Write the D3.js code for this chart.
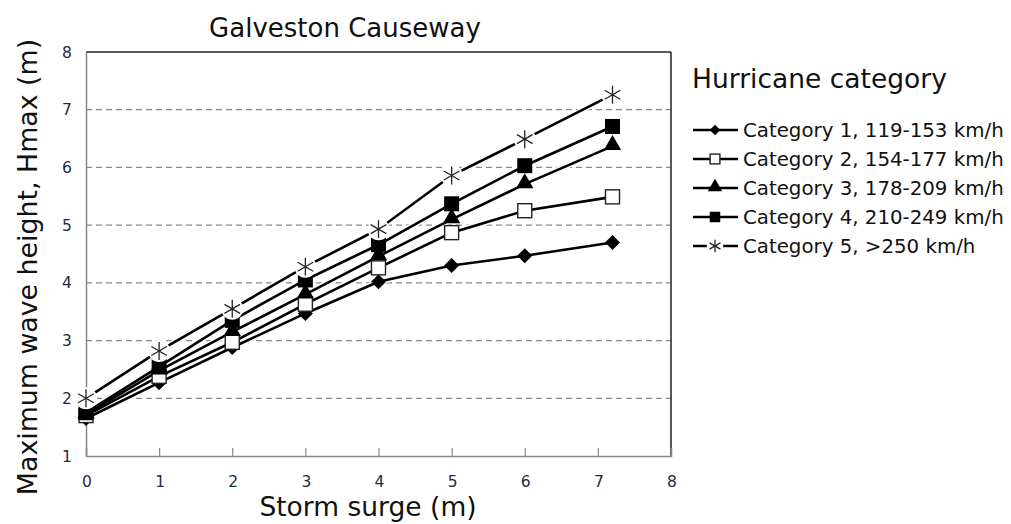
<!DOCTYPE html>
<html>
<head>
<meta charset="utf-8">
<script src="https://cdn.jsdelivr.net/npm/d3@7"></script>
<style>
  body { margin: 0; background: #fff; }
  text { font-family: "DejaVu Sans", Verdana, sans-serif; }
</style>
</head>
<body>
<div id="chart"></div>
<script>
let surge = [0, 1, 2, 3, 4, 5, 6, 7.2]
let cat1 = [1.65, 2.27, 2.88, 3.47, 4.02, 4.30, 4.47, 4.70]
let cat2 = [1.70, 2.38, 2.97, 3.63, 4.26, 4.87, 5.25, 5.49]
let cat3 = [1.72, 2.48, 3.15, 3.80, 4.46, 5.10, 5.71, 6.37]
let cat4 = [1.75, 2.55, 3.35, 4.05, 4.66, 5.37, 6.03, 6.71]
let cat5 = [2.00, 2.82, 3.55, 4.28, 4.93, 5.86, 6.49, 7.26]
let seriesNames = ["Category 1, 119-153 km/h", "Category 2, 154-177 km/h", "Category 3, 178-209 km/h",
  "Category 4, 210-249 km/h", "Category 5, >250 km/h"]
let xTicks = [0, 1, 2, 3, 4, 5, 6, 7, 8]
let yTicks = [1, 2, 3, 4, 5, 6, 7, 8]

let width = 1011
let height = 524
let plot = {left: 86, top: 52, right: 671, bottom: 456}

let series = [cat1, cat2, cat3, cat4, cat5].map((vals, i) => ({
  name: seriesNames[i],
  symbol: ["diamond", "open", "triangle", "square", "star"][i],
  points: vals.map((v, j) => ({x: surge[j], y: v}))
}))

let svg = d3.select("#chart").append("svg")
  .attr("width", width)
  .attr("height", height)

let x = d3.scaleLinear().domain([0, 8]).range([plot.left, plot.right])
let y = d3.scaleLinear().domain([1, 8]).range([plot.bottom, plot.top])

// gridlines
svg.append("g")
  .selectAll("line")
  .data(yTicks.filter(d => d > 1 && d < 8))
  .join("line")
  .attr("x1", plot.left).attr("x2", plot.right)
  .attr("y1", d => y(d)).attr("y2", d => y(d))
  .attr("stroke", "#8a8a8a")
  .attr("stroke-width", 1.2)
  .attr("stroke-dasharray", "6,4")

// frame
svg.append("line").attr("x1", plot.left).attr("x2", plot.right)
  .attr("y1", plot.top).attr("y2", plot.top).attr("stroke", "#222").attr("stroke-width", 1.5)
svg.append("line").attr("x1", plot.right).attr("x2", plot.right)
  .attr("y1", plot.top).attr("y2", plot.bottom).attr("stroke", "#222").attr("stroke-width", 1.5)

let xAxis = svg.append("g")
  .attr("transform", `translate(0,${plot.bottom})`)
  .call(d3.axisTop(x).tickValues(xTicks).tickSize(8).tickFormat(""))
xAxis.select(".domain").attr("stroke", "#888").attr("stroke-width", 1.5)
xAxis.selectAll(".tick line").attr("stroke", "#888").attr("stroke-width", 1.2)

let yAxis = svg.append("g")
  .attr("transform", `translate(${plot.left},0)`)
  .call(d3.axisLeft(y).tickValues(yTicks).tickSize(0).tickFormat(""))
yAxis.select(".domain").attr("stroke", "#888").attr("stroke-width", 1.5)

// tick labels
svg.append("g").selectAll("text")
  .data(xTicks).join("text")
  .attr("x", d => x(d) + 1).attr("y", 487)
  .attr("text-anchor", "middle")
  .attr("font-size", 15.5)
  .attr("fill", "#1f2a44")
  .text(d => d)

svg.append("g").selectAll("text")
  .data(yTicks).join("text")
  .attr("x", 67).attr("y", d => y(d) + 5.5)
  .attr("text-anchor", "middle")
  .attr("font-size", 15.5)
  .attr("fill", "#1f2a44")
  .text(d => d)

// lines
let line = d3.line().x(d => x(d.x)).y(d => y(d.y))

svg.append("g").selectAll("path.halo")
  .data(series).join("path")
  .attr("d", d => line(d.points))
  .attr("fill", "none")
  .attr("stroke", "#fff")
  .attr("stroke-width", 5.5)

svg.append("g").selectAll("path.line")
  .data(series).join("path")
  .attr("d", d => line(d.points))
  .attr("fill", "none")
  .attr("stroke", "#000")
  .attr("stroke-width", 2.6)

function drawMarker(g, symbol, cx, cy, scale) {
  let s = scale || 1
  if (symbol === "diamond") {
    let h = 7.5 * s
    g.append("path").attr("d", `M0,${-h}L${h},0L0,${h}L${-h},0Z`)
      .attr("transform", `translate(${cx},${cy})`).attr("fill", "#000")
  } else if (symbol === "open") {
    g.append("rect").attr("x", cx - 7 * s).attr("y", cy - 7 * s)
      .attr("width", 14 * s).attr("height", 14 * s)
      .attr("fill", "#fff").attr("stroke", "#222").attr("stroke-width", 1.4)
  } else if (symbol === "triangle") {
    g.append("path").attr("d", d3.symbol(d3.symbolTriangle, 130 * s)())
      .attr("transform", `translate(${cx},${cy - 1})`).attr("fill", "#000")
  } else if (symbol === "square") {
    g.append("rect").attr("x", cx - 7.5 * s).attr("y", cy - 7.5 * s)
      .attr("width", 15 * s).attr("height", 15 * s).attr("fill", "#000")
  } else {
    let r = 9 * s
    g.append("circle").attr("cx", cx).attr("cy", cy).attr("r", r + 2).attr("fill", "#fff")
    let star = g.append("g").attr("transform", `translate(${cx},${cy})`)
      .attr("stroke", "#222").attr("stroke-width", 1.3)
    star.append("line").attr("x1", 0).attr("x2", 0).attr("y1", -r).attr("y2", r)
    ;[30, 150].forEach(a => {
      let rad = a * Math.PI / 180
      star.append("line")
        .attr("x1", -r * Math.cos(rad)).attr("y1", -r * Math.sin(rad))
        .attr("x2", r * Math.cos(rad)).attr("y2", r * Math.sin(rad))
    })
  }
}

let markers = svg.append("g")
series.forEach(s => {
  s.points.forEach(p => drawMarker(markers, s.symbol, x(p.x), y(p.y)))
})

// titles
svg.append("text")
  .attr("x", 345).attr("y", 37)
  .attr("text-anchor", "middle")
  .attr("font-size", 26)
  .attr("fill", "#111")
  .text("Galveston Causeway")

svg.append("text")
  .attr("transform", `translate(37,267) rotate(-90)`)
  .attr("text-anchor", "middle")
  .attr("font-size", 26.8)
  .attr("fill", "#111")
  .text("Maximum wave height, Hmax (m)")

svg.append("text")
  .attr("x", 368).attr("y", 516)
  .attr("text-anchor", "middle")
  .attr("font-size", 26.5)
  .attr("fill", "#111")
  .text("Storm surge (m)")

// legend
let legend = svg.append("g")
legend.append("text")
  .attr("x", 692).attr("y", 88)
  .attr("font-size", 26.5)
  .attr("fill", "#111")
  .text("Hurricane category")

series.forEach((s, i) => {
  let cy = 130 + i * 29
  let row = legend.append("g")
  row.append("line").attr("x1", 693).attr("x2", 738)
    .attr("y1", cy).attr("y2", cy)
    .attr("stroke", "#000").attr("stroke-width", 2.6)
  drawMarker(row, s.symbol, 715, cy, 0.7)
  row.append("text")
    .attr("x", 743).attr("y", cy + 7)
    .attr("font-size", 19.8)
    .attr("fill", "#111")
    .text(s.name)
})
</script>
</body>
</html>
